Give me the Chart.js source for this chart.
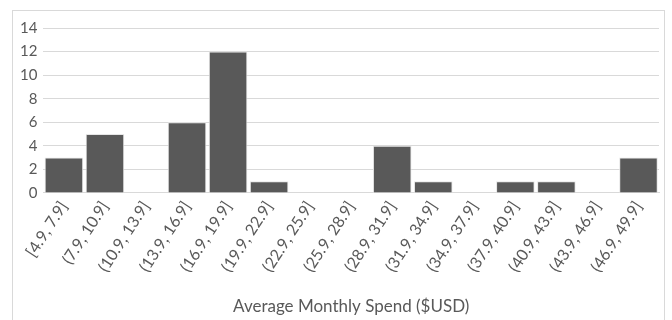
<!DOCTYPE html>
<html lang="en">
<head>
  <meta charset="UTF-8" />
  <title>Average Monthly Spend</title>
  <script src="https://cdn.jsdelivr.net/npm/chart.js"></script>
  <style>
    html, body { margin: 0; padding: 0; background: #fff; }
    #wrap { position: relative; width: 672px; height: 320px; overflow: hidden; }
    #frame { position: absolute; left: 12px; top: 10px; width: 653px; height: 330px; border: 1px solid #d9d9d9; box-sizing: border-box; }
    canvas { position: absolute; left: 0; top: 0; }
  </style>
</head>
<body>
  <div id="wrap">
    <div id="frame"></div>
    <canvas id="histChart" width="672" height="320"></canvas>
  </div>

  <script>
    const bins = [
      '[4.9, 7.9]', '(7.9, 10.9]', '(10.9, 13.9]', '(13.9, 16.9]', '(16.9, 19.9]',
      '(19.9, 22.9]', '(22.9, 25.9]', '(25.9, 28.9]', '(28.9, 31.9]', '(31.9, 34.9]',
      '(34.9, 37.9]', '(37.9, 40.9]', '(40.9, 43.9]', '(43.9, 46.9]', '(46.9, 49.9]'
    ];
    const counts = [3, 5, 0, 6, 12, 1, 0, 0, 4, 1, 0, 1, 1, 0, 3];
    const yTicks = [0, 2, 4, 6, 8, 10, 12, 14];

    const textColor = '#595959';
    const fontFamily = 'Lato, "Open Sans", sans-serif';

    new Chart(document.getElementById('histChart'), {
      type: 'bar',
      data: {
        labels: bins,
        datasets: [{
          data: counts,
          backgroundColor: '#595959',
          borderColor: '#e6e6e6',
          borderWidth: 1,
          barPercentage: 1,
          categoryPercentage: 0.94
        }]
      },
      options: {
        responsive: false,
        animation: false,
        layout: { padding: { left: 14, right: 13, top: 28, bottom: 3 } },
        plugins: {
          legend: { display: false },
          tooltip: { enabled: false }
        },
        scales: {
          x: {
            // leave a bit more room between the labels and the axis title
            afterFit: axis => { axis.height += 10; },
            grid: { display: false, drawTicks: false },
            border: { color: '#d9d9d9' },
            ticks: {
              color: textColor,
              font: { family: fontFamily, size: 16 },
              minRotation: 57,
              maxRotation: 57,
              autoSkip: false,
              padding: 5
            },
            title: {
              display: true,
              text: 'Average Monthly Spend ($USD)',
              color: textColor,
              font: { family: fontFamily, size: 17 },
              padding: { top: 6, bottom: 0 }
            }
          },
          y: {
            min: 0,
            max: 14,
            afterBuildTicks: axis => { axis.ticks = yTicks.map(v => ({ value: v })); },
            grid: { color: '#d9d9d9', drawTicks: false },
            border: { display: false },
            ticks: {
              color: textColor,
              font: { family: fontFamily, size: 15 },
              padding: 6
            }
          }
        }
      }
    });
  </script>
</body>
</html>
